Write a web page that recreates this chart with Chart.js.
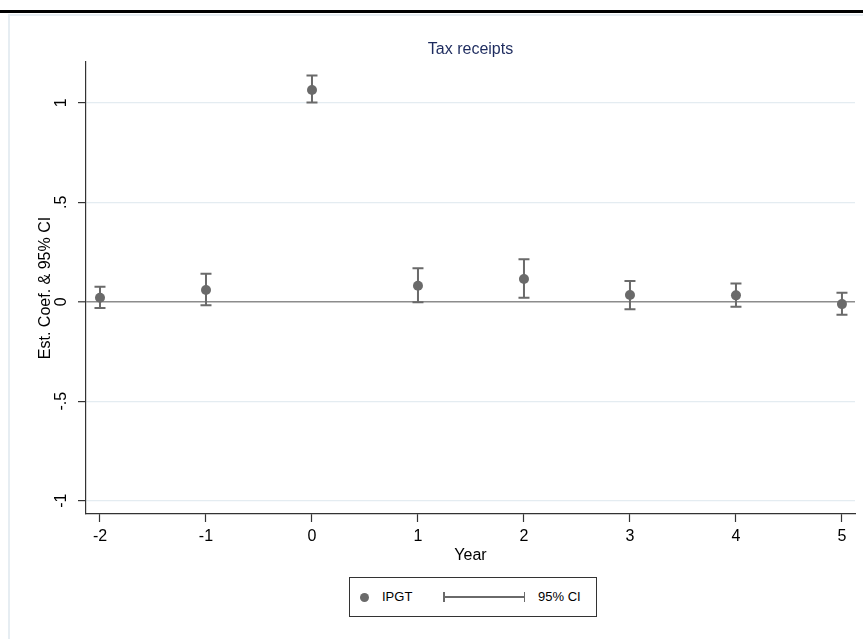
<!DOCTYPE html>
<html>
<head>
<meta charset="utf-8">
<script src="https://cdn.jsdelivr.net/npm/chart.js@4/dist/chart.umd.min.js"></script>
<style>
  html, body { margin: 0; padding: 0; background: #fff; }
  body { width: 863px; height: 639px; position: relative; overflow: hidden; font-family: "Liberation Sans", Arial, sans-serif; }
  #wrap { position: absolute; left: 0; top: 0; width: 863px; height: 639px; }
  .topbar { position: absolute; left: 0; top: 10px; width: 863px; height: 3px; background: #000; }
  .frame-top { position: absolute; left: 8px; top: 14px; width: 855px; height: 2px; background: #e6edf2; }
  .frame-left { position: absolute; left: 8px; top: 14px; width: 2px; height: 625px; background: #e6edf2; }
  .legend { position: absolute; left: 349px; top: 577px; width: 246px; height: 38px; border: 1px solid #333; background: #fff; font-size: 13px; color: #000; }
  .legend .dot { position: absolute; left: 10px; top: 15px; width: 9px; height: 9px; border-radius: 50%; background: #6a6a6a; }
  .legend .lbl { position: absolute; top: 11px; line-height: 16px; }
  .legend .ci { position: absolute; left: 93px; top: 14px; width: 82px; height: 10px; }
  .legend .ci .bar { position: absolute; left: 0; top: 4px; width: 82px; height: 1.5px; background: #6a6a6a; }
  .legend .ci .cap { position: absolute; top: 0; width: 1.5px; height: 10px; background: #6a6a6a; }
</style>
</head>
<body>
<div class="topbar"></div>
<div class="frame-top"></div>
<div class="frame-left"></div>
<div id="wrap"><canvas id="chart"></canvas></div>
<div class="legend">
  <div class="dot"></div>
  <div class="lbl" style="left:32px">IPGT</div>
  <div class="ci"><div class="bar"></div><div class="cap" style="left:0"></div><div class="cap" style="left:80.5px"></div></div>
  <div class="lbl" style="left:188px">95% CI</div>
</div>
<script>
// event-time estimates
const years = [-2, -1, 0, 1, 2, 3, 4, 5];
const coef = [0.020, 0.059, 1.064, 0.080, 0.114, 0.034, 0.032, -0.012];
const ciLow = [-0.032, -0.018, 1.002, -0.003, 0.020, -0.038, -0.025, -0.065];
const ciHigh = [0.075, 0.141, 1.137, 0.168, 0.213, 0.104, 0.092, 0.045];

const xTickLabels = ['-2', '-1', '0', '1', '2', '3', '4', '5'];
const yTickValues = [-1, -0.5, 0, 0.5, 1];
const yTickLabels = ['-1', '-.5', '0', '.5', '1'];

const chartTitle = 'Tax receipts';
const markGray = '#6a6a6a';
const fontFamily = '"Liberation Sans", Arial, sans-serif';

// whiskers for the 95% CI, drawn under the points
const errorBars = {
    id: 'errorBars',
    beforeDatasetsDraw(chart) {
        const ctx = chart.ctx;
        const xs = chart.scales.x;
        const ys = chart.scales.y;
        ctx.save();
        ctx.strokeStyle = markGray;
        ctx.lineWidth = 2;
        years.forEach((yr, i) => {
            const px = xs.getPixelForValue(yr);
            const top = ys.getPixelForValue(ciHigh[i]);
            const bot = ys.getPixelForValue(ciLow[i]);
            ctx.beginPath();
            ctx.moveTo(px, top);
            ctx.lineTo(px, bot);
            ctx.moveTo(px - 5.5, top);
            ctx.lineTo(px + 5.5, top);
            ctx.moveTo(px - 5.5, bot);
            ctx.lineTo(px + 5.5, bot);
            ctx.stroke();
        });
        ctx.restore();
    }
};

// Stata style: y tick labels turned vertical, title centred on the plot region
const textBits = {
    id: 'textBits',
    afterDraw(chart) {
        const ctx = chart.ctx;
        const ys = chart.scales.y;
        const area = chart.chartArea;
        ctx.save();
        ctx.font = '16px ' + fontFamily;
        ctx.fillStyle = '#000';
        ctx.textAlign = 'center';
        ctx.textBaseline = 'middle';
        yTickValues.forEach((v, i) => {
            const py = ys.getPixelForValue(v);
            ctx.save();
            ctx.translate(ys.right - 24, py);
            ctx.rotate(-Math.PI / 2);
            ctx.fillText(yTickLabels[i], 0, 0);
            ctx.restore();
        });
        ctx.fillStyle = '#1d2b5e';
        ctx.fillText(chartTitle, (area.left + area.right) / 2, area.top - 12);
        ctx.restore();
    }
};

new Chart(document.getElementById('chart'), {
    type: 'scatter',
    data: {
        datasets: [{
            label: 'IPGT',
            data: years.map((yr, i) => ({ x: yr, y: coef[i] })),
            backgroundColor: markGray,
            borderColor: markGray,
            pointRadius: 5,
            pointHoverRadius: 5,
            borderWidth: 0
        }]
    },
    options: {
        responsive: true,
        maintainAspectRatio: false,
        animation: false,
        layout: { padding: { top: 62, left: 0, right: 8, bottom: 65 } },
        plugins: {
            legend: { display: false },
            tooltip: { enabled: false },
            title: { display: false }
        },
        scales: {
            x: {
                type: 'linear',
                min: -2.132,
                max: 5.123,
                afterBuildTicks: (scale) => { scale.ticks = years.map(v => ({ value: v })); },
                afterFit: (scale) => { scale.height = 60; },
                ticks: {
                    color: '#000',
                    padding: 5,
                    font: { family: fontFamily, size: 16 },
                    callback: (val) => xTickLabels[years.indexOf(val)]
                },
                grid: { drawOnChartArea: false, drawTicks: true, tickLength: 8, tickColor: '#333', tickWidth: 1.2 },
                border: { color: '#333', width: 1.2 },
                title: {
                    display: true,
                    text: 'Year',
                    color: '#000',
                    font: { family: fontFamily, size: 16 },
                    padding: { top: 0, bottom: 9 }
                }
            },
            y: {
                type: 'linear',
                min: -1.067,
                max: 1.205,
                afterBuildTicks: (scale) => { scale.ticks = yTickValues.map(v => ({ value: v })); },
                afterFit: (scale) => { scale.width = 86; },
                ticks: { display: false },
                grid: {
                    drawTicks: true,
                    tickLength: 8,
                    tickColor: '#333',
                    tickWidth: 1.2,
                    color: (c) => (c.tick && c.tick.value === 0 ? '#8c8c8c' : '#e4ecf1'),
                    lineWidth: (c) => (c.tick && c.tick.value === 0 ? 1.6 : 1.2)
                },
                border: { color: '#333', width: 1.2 },
                title: {
                    display: true,
                    text: 'Est. Coef. & 95% CI',
                    color: '#000',
                    font: { family: fontFamily, size: 16 },
                    padding: { top: 36, bottom: 0 }
                }
            }
        }
    },
    plugins: [errorBars, textBits]
});
</script>
</body>
</html>
